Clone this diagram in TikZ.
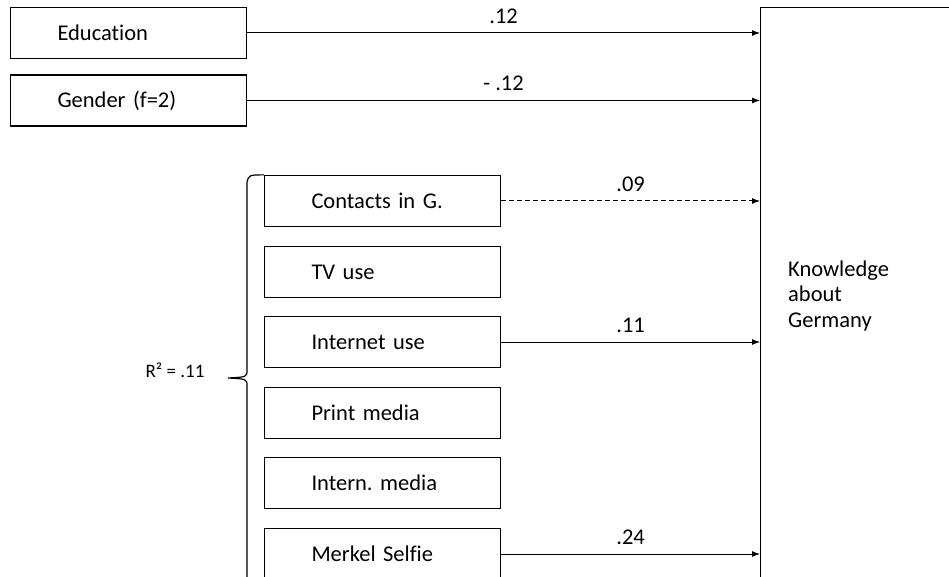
\documentclass[tikz,border=0pt]{standalone}
\usepackage{fontspec}
\setmainfont{Carlito}[Ligatures=NoCommon]
\usetikzlibrary{arrows.meta,positioning}

\begin{document}
\frenchspacing
\begin{tikzpicture}[
        x=1pt, y=-1pt,
        font=\fontsize{22.5}{25.5}\selectfont,
        varbox/.style={draw, line width=1.3pt, minimum height=51pt, inner xsep=47pt, text width=142pt, align=left},
        weight/.style={midway, above=9pt, inner sep=0pt},
        effect/.style={-{Latex[length=8pt,width=6pt]}, line width=1pt}
      ]
      \useasboundingbox (0,0) rectangle (949,577);
      \clip (0,0) rectangle (949,577);

      % Dependent variable
      \node[draw, line width=1.3pt, anchor=north west, minimum width=300pt, minimum height=700pt] (know) at (760,7) {};
      \node[anchor=west, align=left, inner sep=0pt] (knowtext) at (788,295.5) {Knowledge\\about\\Germany};

      % Controls
      \node[varbox] (edu) at (128.5,33) {Education};
      \node[varbox] (gender) at (128.5,100.5) {Gender (f=2)};

      % Media and contacts
      \node[varbox] (contacts) at (382.5,201) {Contacts in G.};
      \node[varbox] (tv) at (382.5,272) {TV use};
      \node[varbox] (internet) at (382.5,342) {Internet use};
      \node[varbox] (print) at (382.5,413) {Print media};
      \node[varbox] (intmedia) at (382.5,483) {Intern. media};
      \node[varbox] (selfie) at (382.5,554) {Merkel Selfie};

      % Brace and explained variance
      \draw[line width=1.2pt] (contacts.north west) .. controls (249,175) .. (247,182) -- (247,370)
        .. controls (247,377) .. (228,378) .. controls (247,379) .. (247,386) -- (247,600);
      \node[anchor=base, font=\fontsize{19}{22}\selectfont] (rsq) at (175,377) {R² = .11};

      % Paths
      \draw[effect] (edu.east) -- (edu.east -| know.west) node[weight] {.12};
      \draw[effect] (gender.east) -- (gender.east -| know.west) node[weight] {- .12};
      \draw[effect, dash pattern=on 5pt off 3pt] (contacts.east) -- (contacts.east -| know.west) node[weight] {.09};
      \draw[effect] (internet.east) -- (internet.east -| know.west) node[weight] {.11};
      \draw[effect] (selfie.east) -- (selfie.east -| know.west) node[weight] {.24};

    \end{tikzpicture}
\end{document}
